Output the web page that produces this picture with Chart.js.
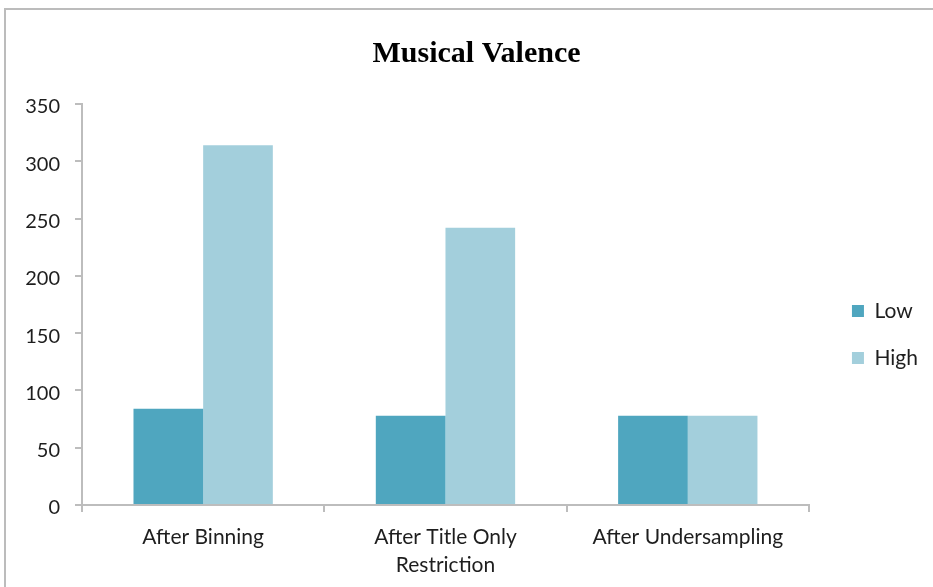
<!DOCTYPE html>
<html>
<head>
<meta charset="utf-8">
<script src="https://cdn.jsdelivr.net/npm/chart.js@4.4.1/dist/chart.umd.min.js"></script>
<style>
  html, body { margin: 0; padding: 0; background: #ffffff; }
  body { width: 933px; height: 587px; overflow: hidden; position: relative; }
  #frame { position: absolute; left: 4px; top: 8px; width: 1000px; height: 700px; border: 2px solid #bcbcbc; }
  #wrap { position: absolute; left: 0; top: 0; width: 933px; height: 587px; }
</style>
</head>
<body>
<div id="frame"></div>
<div id="wrap"><canvas id="chart"></canvas></div>
<script>
// Categories along the x axis (multi-line labels as arrays)
const categories = ['After Binning', ['After Title Only', 'Restriction'], 'After Undersampling'];
// Series
const seriesNames = ['Low', 'High'];
const lowValues = [84, 78, 78];
const highValues = [314, 242, 78];
// Value axis tick labels
const yTickValues = [0, 50, 100, 150, 200, 250, 300, 350];

const seriesColors = ['#4fa6bf', '#a3cfdc'];
const labelFont = "Lato, 'DejaVu Sans', sans-serif";
const axisGray = '#bdbdbd';
const textColor = '#1e1e1e';

// Shifts the title and the right-hand legend block after layout
const blockOffsets = {
  id: 'blockOffsets',
  afterLayout(chart, args, opts) {
    const lg = chart.legend;
    if (lg) {
      lg.left += opts.legendX; lg.right += opts.legendX;
      lg.top += opts.legendY; lg.bottom += opts.legendY;
    }
    const tb = chart.titleBlock;
    if (tb) {
      tb.left += opts.titleX; tb.right += opts.titleX;
    }
  }
};

new Chart(document.getElementById('chart'), {
  type: 'bar',
  data: {
    labels: categories,
    datasets: [
      { label: seriesNames[0], data: lowValues, backgroundColor: seriesColors[0], borderWidth: 0 },
      { label: seriesNames[1], data: highValues, backgroundColor: seriesColors[1], borderWidth: 0 }
    ]
  },
  plugins: [blockOffsets],
  options: {
    responsive: true,
    maintainAspectRatio: false,
    animation: false,
    categoryPercentage: 0.575,
    barPercentage: 1.0,
    layout: { padding: { left: 0, right: 22, top: 0, bottom: 0 } },
    plugins: {
      title: {
        display: true,
        text: 'Musical Valence',
        color: '#000000',
        font: { family: "'Liberation Serif', 'Times New Roman', serif", size: 30, weight: 'bold', lineHeight: 1.2 },
        padding: { top: 36, bottom: 32 }
      },
      legend: {
        position: 'right',
        labels: {
          boxWidth: 12,
          boxHeight: 12,
          padding: 26,
          color: textColor,
          font: { family: labelFont, size: 21 }
        }
      },
      blockOffsets: { legendX: 17, legendY: 41, titleX: 21 },
      tooltip: { enabled: false }
    },
    scales: {
      x: {
        border: { display: true, color: axisGray, width: 2 },
        grid: { display: true, offset: true, drawOnChartArea: false, drawTicks: true, tickLength: 7, color: axisGray, lineWidth: 2 },
        ticks: { color: textColor, padding: 12, maxRotation: 0, font: { family: labelFont, size: 21, lineHeight: 1.3 } },
        afterFit(scale) { scale.height = 82; }
      },
      y: {
        min: 0,
        max: 350,
        border: { display: true, color: axisGray, width: 2 },
        grid: { display: true, drawOnChartArea: false, drawTicks: true, tickLength: 7, color: axisGray, lineWidth: 2 },
        ticks: { color: textColor, padding: 15, labelOffset: 3, font: { family: labelFont, size: 20 } },
        afterBuildTicks(scale) { scale.ticks = yTickValues.map(v => ({ value: v })); },
        afterFit(scale) { scale.width = 82; }
      }
    }
  }
});
</script>
</body>
</html>
